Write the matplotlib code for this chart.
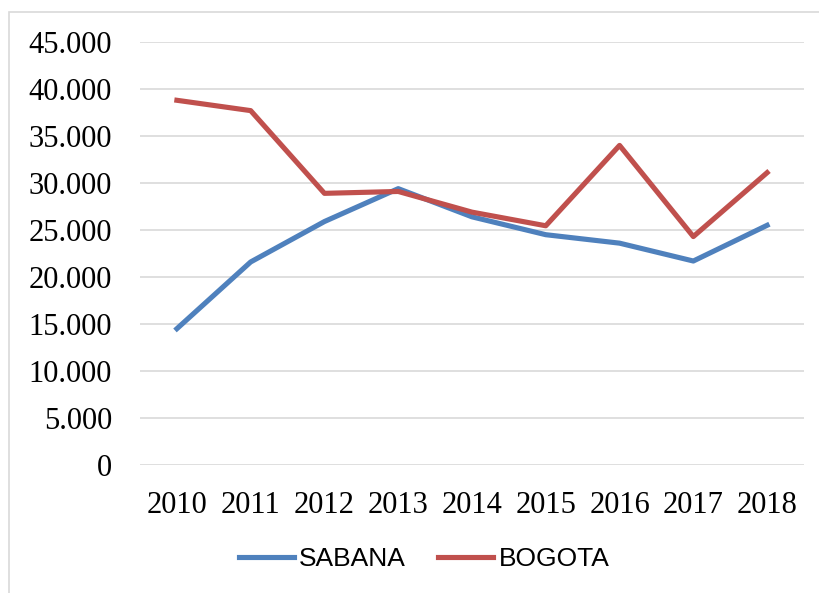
import matplotlib
matplotlib.use("Agg")
import matplotlib.pyplot as plt
from matplotlib.patches import Rectangle
from matplotlib.ticker import FuncFormatter, MultipleLocator

# ---------------------------------------------------------------------------
# Data
# ---------------------------------------------------------------------------
years = ["2010", "2011", "2012", "2013", "2014", "2015", "2016", "2017", "2018"]
sabana = [14500, 21600, 25900, 29400, 26400, 24500, 23600, 21700, 25500]
bogota = [38800, 37700, 28900, 29100, 26900, 25450, 34000, 24300, 31100]

BLUE = "#4F81BD"
RED = "#C0504D"
GRID = "#D9D9D9"

W, H = 820, 593
fig = plt.figure(figsize=(W / 100, H / 100), dpi=100)

# plot area in pixel coordinates of the reference
left, right, top, bottom = 140, 804, 42, 465
ax = fig.add_axes([left / W, 1 - bottom / H, (right - left) / W, (bottom - top) / H])

x = range(len(years))
ax.plot(x, sabana, color=BLUE, lw=3.7, label="SABANA", solid_joinstyle="round")
ax.plot(x, bogota, color=RED, lw=3.7, label="BOGOTA", solid_joinstyle="round")

ax.set_xlim(-0.5, len(years) - 0.5)
ax.set_ylim(0, 45000)
ax.yaxis.set_major_locator(MultipleLocator(5000))
ax.yaxis.set_major_formatter(FuncFormatter(lambda v, _: f"{v:,.0f}".replace(",", ".")))
ax.set_xticks(list(x))
ax.set_xticklabels(years)

ax.grid(True, axis="y", color=GRID, lw=1.2)
ax.set_axisbelow(True)
for s in ax.spines.values():
    s.set_visible(False)

serif = ["Liberation Serif", "DejaVu Serif"]
ax.tick_params(axis="both", length=0, labelsize=22, labelcolor="black")
ax.tick_params(axis="y", pad=20)
ax.tick_params(axis="x", pad=19)
for lab in ax.get_xticklabels() + ax.get_yticklabels():
    lab.set_fontfamily(serif)

fig.legend(
    loc="center", bbox_to_anchor=(424 / W, 1 - 559 / H), ncol=2, frameon=False,
    prop={"family": ["Liberation Sans", "DejaVu Sans"], "size": 19},
    handlelength=2.1, handletextpad=0.2, columnspacing=1.2,
)

# thin chart-area border (runs off the right and bottom edges)
fig.patches.append(Rectangle((9 / W, -0.02), 1.0, 1 - 12 / H + 0.02,
                             transform=fig.transFigure, fill=False,
                             edgecolor=GRID, lw=1.2))

fig.savefig("out.png", dpi=100)
